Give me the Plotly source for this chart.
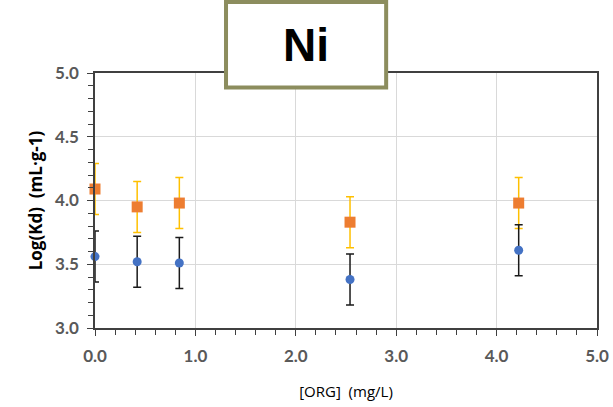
import plotly.graph_objects as go

# Data
org_conc = [0.0, 0.42, 0.84, 2.54, 4.22]
logkd_series_a = [4.09, 3.95, 3.98, 3.83, 3.98]   # orange squares
err_series_a = [0.20, 0.20, 0.20, 0.20, 0.20]
logkd_series_b = [3.56, 3.52, 3.51, 3.38, 3.61]   # blue circles
err_series_b = [0.20, 0.20, 0.20, 0.20, 0.20]
x_ticks = [0, 1, 2, 3, 4, 5]
x_tick_labels = ["0.0", "1.0", "2.0", "3.0", "4.0", "5.0"]
y_ticks = [3.0, 3.5, 4.0, 4.5, 5.0]
y_tick_labels = ["3.0", "3.5", "4.0", "4.5", "5.0"]
title_text = "Ni"

fig = go.Figure()
fig.add_trace(go.Scatter(
    x=org_conc, y=logkd_series_a, mode="markers", cliponaxis=False,
    marker=dict(symbol="square", size=11, color="#ED7D31"),
    error_y=dict(type="data", array=err_series_a, visible=True,
                 color="#FFC000", thickness=1.5, width=4),
    showlegend=False))
fig.add_trace(go.Scatter(
    x=org_conc, y=logkd_series_b, mode="markers", cliponaxis=False,
    marker=dict(symbol="circle", size=9, color="#4472C4"),
    error_y=dict(type="data", array=err_series_b, visible=True,
                 color="#1a1a1a", thickness=1.5, width=4),
    showlegend=False))

tickfont = dict(family="Lato", size=17, color="#595959", weight="bold")
axcol = "#404040"

fig.update_xaxes(
    range=[0, 5], tickvals=x_ticks, ticktext=x_tick_labels,
    showgrid=True, gridcolor="#D9D9D9", gridwidth=1,
    showline=True, linecolor=axcol, linewidth=1.5, mirror=True,
    ticks="outside", ticklen=6, tickcolor=axcol, tickwidth=1.2,
    minor=dict(dtick=0.2, ticks="outside", ticklen=5, tickcolor=axcol, tickwidth=1.2, showgrid=False),
    tickfont=tickfont, zeroline=False, ticklabelstandoff=6,
    title=dict(text="[ORG]  (mg/L)", font=dict(family="Open Sans", size=15, color="#000000"), standoff=21),
    automargin=False)
fig.update_yaxes(
    range=[3, 5], tickvals=y_ticks, ticktext=y_tick_labels,
    showgrid=True, gridcolor="#D9D9D9", gridwidth=1,
    showline=True, linecolor=axcol, linewidth=1.5, mirror=True,
    ticks="outside", ticklen=6, tickcolor=axcol, tickwidth=1.2,
    minor=dict(dtick=0.1, ticks="outside", ticklen=5, tickcolor=axcol, tickwidth=1.2, showgrid=False),
    tickfont=tickfont, zeroline=False, ticklabelstandoff=5,
    title=dict(text="Log(Kd)  (mL·g-1)", font=dict(family="Open Sans", size=17, color="#000000", weight="bold"), standoff=8),
    automargin=False)

fig.add_shape(type="rect", xref="paper", yref="paper",
              x0=0.261, x1=0.580, y0=0.943, y1=1.278,
              line=dict(color="#8C8D5E", width=4), fillcolor="white", layer="above")
fig.add_annotation(text=title_text, xref="paper", yref="paper", x=0.42, y=1.11,
                   showarrow=False, xanchor="center", yanchor="middle",
                   font=dict(family="Liberation Sans", size=46, color="#000000", weight="bold"))

fig.update_layout(
    width=613, height=407,
    margin=dict(l=95, r=16, t=73, b=79),
    paper_bgcolor="white", plot_bgcolor="white")

fig.write_html("out.html", config={"displayModeBar": False},
               post_script="document.body.style.margin='0';document.body.style.overflow='hidden';")
